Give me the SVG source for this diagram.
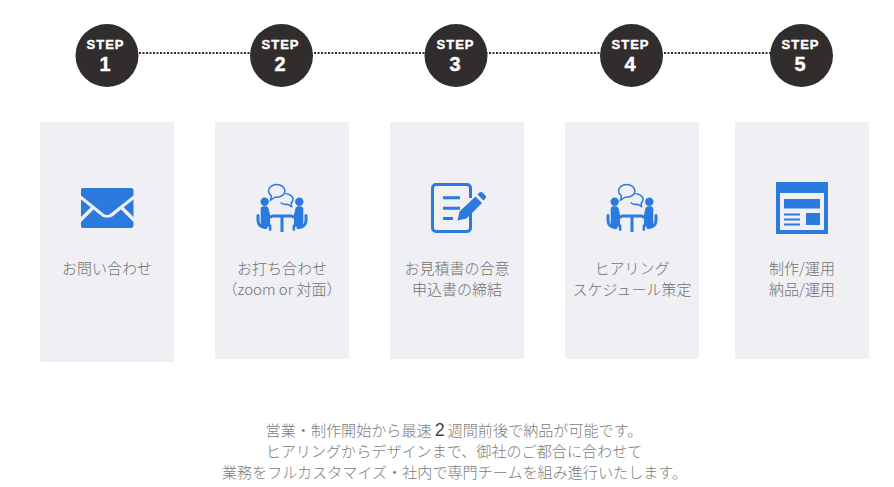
<svg xmlns="http://www.w3.org/2000/svg" width="894" height="487" viewBox="0 0 894 487">
<style>
.panel{fill:#efeff4}
.circle{fill:#302d2c}
.step{font-family:"Liberation Sans",Arial,sans-serif;font-weight:700;fill:#fff;text-anchor:middle;font-size:13px;letter-spacing:1px;stroke:#fff;stroke-width:.4px}
.num{font-family:"Liberation Sans",Arial,sans-serif;font-weight:700;fill:#fff;text-anchor:middle;font-size:20px;stroke:#fff;stroke-width:.4px}
.label{font-family:"Noto Sans CJK JP","Noto Sans",sans-serif;font-weight:300;fill:#727272;text-anchor:middle;font-size:15px}
.note{font-family:"Noto Sans CJK JP","Noto Sans",sans-serif;font-weight:300;fill:#7c7c7c;text-anchor:middle;font-size:15.1px}
.ico{fill:#2b7ade}
.thin{fill:none;stroke:#2b7ade;stroke-width:1.5}
.chair{fill:none;stroke:#2b7ade;stroke-width:3;stroke-linecap:round}
</style>
<defs>
<g id="meet">
<path class="thin" d="M36.700 14.500c-4.500 0-8.200 2.900-8.200 6.500 0 2 1.100 3.700 2.800 4.900l-.8 4.300 4.600-3c.5.100 1 .1 1.600.1 4.500 0 8.200-2.800 8.200-6.300s-3.700-6.500-8.200-6.500z"/>
<path class="thin" d="M45.500 23.500c3 .4 7.500 2.300 7.500 5.700 0 1.500-.7 2.900-1.900 3.900l.4 3.400-4-2.300c-2.500.4-5.600-.3-6.800-1.700"/>
<circle class="ico" cx="24.700" cy="31.700" r="4.200"/>
<circle class="ico" cx="59.300" cy="31.700" r="4.200"/>
<path class="ico" d="M20.700 39c0-1.800 1.300-2.700 2.800-2.700h2.300c1.500 0 2.500 1 2.800 2.500l1.500 6.500h2v3h-2v6l1.300 1v4.500c0 .7-.6 1.200-1.300 1.200s-1.200-.5-1.200-1.200v-3h-5c-1.500 0-3.200-1-3.200-3z"/>
<path class="ico" d="M63.300 39c0-1.800-1.300-2.700-2.800-2.700h-2.300c-1.500 0-2.500 1-2.800 2.500l-1.500 6.500h-2v3h2v6l-1.300 1v4.500c0 .7.600 1.200 1.300 1.200s1.200-.5 1.200-1.200v-3h5c1.500 0 3.200-1 3.200-3z"/>
<rect class="ico" x="31.700" y="44.500" width="20.600" height="3"/>
<rect class="ico" x="40.500" y="47" width="3" height="15"/>
<path class="chair" d="M18 45.500v5c0 4 3 7 7 7h1"/>
<path class="chair" d="M66 45.500v5c0 4-3 7-7 7h-1"/>
</g>
</defs>
<g id="connectors">
<path d="M139 53H772" stroke="#302d2c" stroke-width="2" stroke-dasharray="2 1.500" fill="none"/>
</g>
<g id="step1"><circle class="circle" cx="107" cy="55.500" r="31.500"/><text class="step" x="105.500" y="49">STEP</text><text class="num" x="105" y="71">1</text></g>
<g id="step2"><circle class="circle" cx="281.500" cy="55.500" r="31.500"/><text class="step" x="280.500" y="49">STEP</text><text class="num" x="280" y="71">2</text></g>
<g id="step3"><circle class="circle" cx="456" cy="55.500" r="31.500"/><text class="step" x="455.500" y="49">STEP</text><text class="num" x="455" y="71">3</text></g>
<g id="step4"><circle class="circle" cx="631.500" cy="55.500" r="31.500"/><text class="step" x="630.500" y="49">STEP</text><text class="num" x="630" y="71">4</text></g>
<g id="step5"><circle class="circle" cx="801.500" cy="55.500" r="31.500"/><text class="step" x="800.500" y="49">STEP</text><text class="num" x="800" y="71">5</text></g>

<g id="card1"><rect class="panel" x="40" y="122" width="134" height="240"/>
<path class="ico" d="M83 188h48c1.500 0 2.500 1 2.500 2.500v5L110 214c-1.800 1.400-4.200 1.400-6 0L81 195.500v-5c0-1.500.5-2.500 2-2.500z"/>
<path class="ico" d="M81 199.500l9.800 7.800L81 217zM133.500 199.500l-9.800 7.800 9.800 9.700zM93.500 209.500l8 6.500c3 2.200 8.500 2.200 11.500 0l8-6.500 12.500 12.500v3.500c0 1.500-1 2.500-2.500 2.500H83c-1.500 0-2-1-2-2.500V222z"/>
<text class="label" x="107" y="274">お問い合わせ</text></g>

<g id="card2"><rect class="panel" x="215" y="122" width="134" height="237"/>
<use href="#meet" x="240" y="170"/>
<text class="label" x="282" y="274">お打ち合わせ</text><text class="label" x="282" y="295">（zoom or 対面）</text></g>

<g id="card3"><rect class="panel" x="390" y="122" width="134" height="237"/>
<path d="M470.500 213v15c0 2-1.500 3.500-3.500 3.500h-31c-2 0-3.500-1.500-3.500-3.500v-40c0-2 1.500-3.500 3.500-3.500h31c2 0 3.500 1.500 3.500 3.500v10" fill="none" stroke="#2b7ade" stroke-width="3"/>
<path d="M443 197.700h17M443 208.300h17M443 218.500h10" fill="none" stroke="#2b7ade" stroke-width="3"/>
<path class="ico" d="M475.500 196.500l6.500 6.500-15.500 15.500-9 2 2-9zM477.500 194.500l1.700-1.700c1-1 2.500-1 3.500 0l2.500 2.500c1 1 1 2.500 0 3.500l-1.700 1.700z"/>
<text class="label" x="457" y="274">お見積書の合意</text><text class="label" x="457" y="295">申込書の締結</text></g>

<g id="card4"><rect class="panel" x="565" y="122" width="134" height="237"/>
<use href="#meet" x="590" y="170"/>
<text class="label" x="632" y="274">ヒアリング</text><text class="label" x="632" y="295">スケジュール策定</text></g>

<g id="card5"><rect class="panel" x="735" y="122" width="134" height="237"/>
<path class="ico" fill-rule="evenodd" d="M776 182h52v52h-52zM780 193v37h44v-37z"/>
<rect class="ico" x="784" y="199" width="36" height="9.500"/>
<rect class="ico" x="806" y="213" width="14" height="12"/>
<path d="M784 214.500h16M784 219.500h16M784 224.500h16" stroke="#2b7ade" stroke-width="2" fill="none"/>
<text class="label" x="802" y="274">制作/運用</text><text class="label" x="802" y="295">納品/運用</text></g>

<g id="note">
<text class="note" x="454" y="435.500">営業・制作開始から最速<tspan font-family="'Liberation Sans',Arial,sans-serif" font-size="18" fill="#444" dx="3">2</tspan><tspan dx="3">週間前後で納品が可能です。</tspan></text>
<text class="note" x="454" y="456.500">ヒアリングからデザインまで、御社のご都合に合わせて</text>
<text class="note" x="454.500" y="477.500">業務をフルカスタマイズ・社内で専門チームを組み進行いたします。</text>
</g>
</svg>
